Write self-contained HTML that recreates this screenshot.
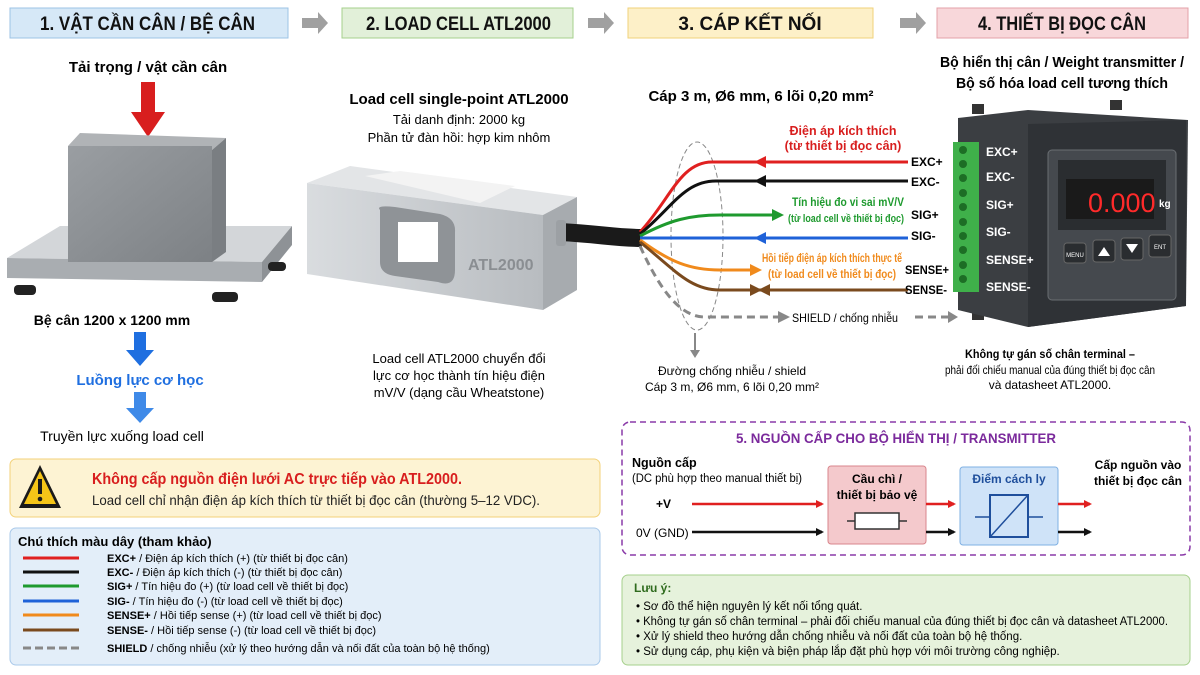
<!DOCTYPE html>
<html><head><meta charset="utf-8"><style>
body{margin:0;width:1200px;height:675px;background:#fff;overflow:hidden;font-family:"Liberation Sans","DejaVu Sans",sans-serif}
svg{position:absolute;left:0;top:0}
text{font-family:"Liberation Sans","DejaVu Sans",sans-serif}
</style></head><body>
<svg width="1200" height="675" viewBox="0 0 1200 675">
<defs>
<marker id="aR" markerWidth="8" markerHeight="8" refX="6" refY="4" orient="auto" markerUnits="userSpaceOnUse"><path d="M0,0L8,4L0,8z" fill="#e02020"/></marker>
<marker id="aK" markerWidth="8" markerHeight="8" refX="6" refY="4" orient="auto" markerUnits="userSpaceOnUse"><path d="M0,0L8,4L0,8z" fill="#111"/></marker>
<linearGradient id="cube" x1="0" y1="0" x2="1" y2="1"><stop offset="0" stop-color="#9a9ea2"/><stop offset="1" stop-color="#7d8185"/></linearGradient>
<linearGradient id="steel" x1="0" y1="0" x2="1" y2="0"><stop offset="0" stop-color="#d9dcdf"/><stop offset="1" stop-color="#b8bcc0"/></linearGradient>
</defs>
<!-- headers -->
<rect x="10" y="8" width="278" height="30" fill="#d6e8f7" stroke="#9cc3e6"/>
<text x="40" y="30" font-size="19" font-weight="bold" textLength="215" lengthAdjust="spacingAndGlyphs" fill="#111">1. VẬT CẦN CÂN / BỆ CÂN</text>
<path d="M302,18h16v-6l10,11l-10,11v-6h-16z" fill="#a0a0a0"/>
<rect x="342" y="8" width="231" height="30" fill="#e2f0d9" stroke="#a6d08c"/>
<text x="366" y="30" font-size="19" font-weight="bold" textLength="185" lengthAdjust="spacingAndGlyphs" fill="#111">2. LOAD CELL ATL2000</text>
<path d="M588,18h16v-6l10,11l-10,11v-6h-16z" fill="#a0a0a0"/>
<rect x="628" y="8" width="245" height="30" fill="#fdf0c8" stroke="#f0d27a"/>
<text x="750" y="30" font-size="19" font-weight="bold" text-anchor="middle" fill="#111">3. CÁP KẾT NỐI</text>
<path d="M900,18h16v-6l10,11l-10,11v-6h-16z" fill="#a0a0a0"/>
<rect x="937" y="8" width="251" height="30" fill="#f8d7da" stroke="#e3a0a8"/>
<text x="978" y="30" font-size="19" font-weight="bold" textLength="168" lengthAdjust="spacingAndGlyphs" fill="#111">4. THIẾT BỊ ĐỌC CÂN</text>

<!-- section 1 -->
<text x="148" y="72" font-size="15" font-weight="bold" text-anchor="middle">Tải trọng / vật cần cân</text>
<path d="M141,82h14v30h10l-17,25l-17,-25h10z" fill="#d81e1e"/>
<polygon points="7,258 60,226 292,226 262,262" fill="#d3d6d9"/>
<polygon points="7,258 262,262 262,282 7,278" fill="#a9adb1"/>
<polygon points="262,262 292,226 292,245 262,282" fill="#8e9296"/>
<rect x="14" y="285" width="22" height="10" rx="4" fill="#222"/>
<rect x="212" y="292" width="26" height="10" rx="4" fill="#222"/>
<rect x="268" y="262" width="18" height="9" rx="4" fill="#222"/>
<polygon points="68,146 80,133 226,138 212,150" fill="#b0b3b6"/>
<polygon points="212,150 226,138 226,252 212,262" fill="#7a7e82"/>
<rect x="68" y="146" width="144" height="116" fill="url(#cube)"/>
<text x="112" y="325" font-size="14" font-weight="bold" text-anchor="middle">Bệ cân 1200 x 1200 mm</text>
<path d="M134,332h12v18h8l-14,16l-14,-16h8z" fill="#1f6fe0"/>
<text x="140" y="385" font-size="15" font-weight="bold" text-anchor="middle" fill="#1f6fe0">Luồng lực cơ học</text>
<path d="M134,392h12v16h8l-14,15l-14,-15h8z" fill="#3f8ae8"/>
<text x="122" y="441" font-size="14" text-anchor="middle">Truyền lực xuống load cell</text>

<!-- section 2 -->
<text x="459" y="104" font-size="15" font-weight="bold" text-anchor="middle">Load cell single-point ATL2000</text>
<text x="459" y="124" font-size="13" text-anchor="middle">Tải danh định: 2000 kg</text>
<text x="459" y="142" font-size="13" text-anchor="middle">Phần tử đàn hồi: hợp kim nhôm</text>
<polygon points="307,183 350,166 577,197 543,215" fill="#e3e5e7"/>
<polygon points="365,176 400,171 515,186 480,203" fill="#f3f3f3"/>
<polygon points="307,183 543,215 543,310 307,274" fill="url(#steel)"/>
<polygon points="543,215 577,197 577,290 543,310" fill="#a7abaf"/>
<path d="M380,210 Q375,205 395,207 L440,214 Q456,218 455,232 L455,270 Q455,288 438,282 L395,276 Q380,274 380,262z" fill="#8f9397"/>
<rect x="398" y="222" width="40" height="40" fill="#fff"/>
<text x="468" y="270" font-size="16" font-weight="bold" fill="#8a8e92">ATL2000</text>
<path d="M560,232 C600,234 615,238 642,238" stroke="#1a1a1a" stroke-width="18" fill="none"/>
<rect x="556" y="220" width="10" height="26" rx="3" fill="#9ca0a4"/>
<text x="459" y="363" font-size="13" text-anchor="middle">Load cell ATL2000 chuyển đổi</text>
<text x="459" y="380" font-size="13" text-anchor="middle">lực cơ học thành tín hiệu điện</text>
<text x="459" y="397" font-size="13" text-anchor="middle">mV/V (dạng cầu Wheatstone)</text>

<!-- section 3 -->
<text x="761" y="101" font-size="15" font-weight="bold" text-anchor="middle">Cáp 3 m, Ø6 mm, 6 lõi 0,20 mm²</text>
<ellipse cx="697" cy="236" rx="26" ry="94" fill="none" stroke="#888" stroke-dasharray="5,3"/>
<g fill="none" stroke-width="3">
<path d="M640,232 C670,200 680,162 712,162 H908" stroke="#e02020"/>
<path d="M640,234 C672,208 684,181 716,181 H908" stroke="#111"/>
<path d="M640,236 C670,220 690,215 720,215 H772" stroke="#1e9a2e"/>
<path d="M640,238 H908" stroke="#1f62d8"/>
<path d="M640,240 C670,262 690,270 720,270 H750" stroke="#f08a1c"/>
<path d="M640,242 C675,270 690,290 720,290 H908" stroke="#7a4a1e"/>
<path d="M640,246 C660,290 680,317 705,317 H780" stroke="#888" stroke-dasharray="8,5"/>
<path d="M915,317 H955" stroke="#888" stroke-dasharray="8,5"/>
</g>
<path d="M766,156 l-12,6 12,6z" fill="#e02020"/>
<path d="M766,175 l-12,6 12,6z" fill="#111"/>
<path d="M772,209 l12,6 -12,6z" fill="#1e9a2e"/>
<path d="M766,232 l-12,6 12,6z" fill="#1f62d8"/>
<path d="M750,264 l12,6 -12,6z" fill="#f08a1c"/>
<path d="M750,284 l12,6 -12,6z" fill="#7a4a1e"/>
<path d="M770,284 l-12,6 12,6z" fill="#7a4a1e"/>
<path d="M778,311 l12,6 -12,6z" fill="#888"/>
<text x="843" y="135" font-size="12.5" font-weight="bold" fill="#d81e1e" text-anchor="middle">Điện áp kích thích</text>
<text x="843" y="150" font-size="12.5" font-weight="bold" fill="#d81e1e" text-anchor="middle">(từ thiết bị đọc cân)</text>
<text x="792" y="206" font-size="11.5" font-weight="bold" fill="#1e9a2e" textLength="112" lengthAdjust="spacingAndGlyphs">Tín hiệu đo vi sai mV/V</text>
<text x="788" y="222" font-size="11" font-weight="bold" fill="#1e9a2e" textLength="116" lengthAdjust="spacingAndGlyphs">(từ load cell về thiết bị đọc)</text>
<text x="762" y="262" font-size="11.5" font-weight="bold" fill="#f08a1c" textLength="140" lengthAdjust="spacingAndGlyphs">Hồi tiếp điện áp kích thích thực tế</text>
<text x="768" y="278" font-size="11.5" font-weight="bold" fill="#f08a1c" textLength="128" lengthAdjust="spacingAndGlyphs">(từ load cell về thiết bị đọc)</text>
<g font-size="12" font-weight="bold">
<text x="911" y="166">EXC+</text><text x="911" y="186">EXC-</text>
<text x="911" y="219">SIG+</text><text x="911" y="240">SIG-</text>
<text x="905" y="274" textLength="44" lengthAdjust="spacingAndGlyphs">SENSE+</text><text x="905" y="294" textLength="42" lengthAdjust="spacingAndGlyphs">SENSE-</text>
</g>
<rect x="790" y="308" width="122" height="16" fill="#fff"/>
<text x="792" y="322" font-size="12" textLength="106" lengthAdjust="spacingAndGlyphs">SHIELD / chống nhiễu</text>
<path d="M695,333 V355" stroke="#888" stroke-width="2"/><path d="M690,350 l5,8 5,-8z" fill="#888"/>
<text x="732" y="375" font-size="12" text-anchor="middle">Đường chống nhiễu / shield</text>
<text x="732" y="391" font-size="12" text-anchor="middle">Cáp 3 m, Ø6 mm, 6 lõi 0,20 mm²</text>

<!-- section 4 -->
<text x="1062" y="67" font-size="15" font-weight="bold" text-anchor="middle" textLength="244" lengthAdjust="spacingAndGlyphs">Bộ hiển thị cân / Weight transmitter /</text>
<text x="1062" y="88" font-size="15" font-weight="bold" text-anchor="middle" textLength="212" lengthAdjust="spacingAndGlyphs">Bộ số hóa load cell tương thích</text>
<rect x="972" y="104" width="12" height="10" fill="#333"/><rect x="1110" y="100" width="12" height="10" fill="#333"/>
<rect x="972" y="308" width="12" height="12" fill="#333"/>
<polygon points="958,118 1028,110 1188,120 1186,306 1028,327 958,310" fill="#3b3e42"/>
<polygon points="1028,124 1186,120 1186,306 1028,327" fill="#2f3236"/>
<rect x="1048" y="150" width="128" height="150" rx="4" fill="#45494e" stroke="#6a6e72"/>
<rect x="1058" y="160" width="108" height="70" fill="#2a2d30"/>
<rect x="1066" y="179" width="88" height="40" fill="#1a1a1a"/>
<text x="1088" y="212" font-size="27" fill="#ff2a2a" font-family="Liberation Mono,monospace">0.000</text>
<text x="1159" y="207" font-size="10" font-weight="bold" fill="#fff">kg</text>
<rect x="1064" y="243" width="22" height="20" rx="3" fill="#2a2d30" stroke="#666"/>
<text x="1075" y="257" font-size="6" fill="#fff" text-anchor="middle">MENU</text>
<rect x="1093" y="240" width="22" height="22" rx="3" fill="#2a2d30" stroke="#666"/><path d="M1098,256 l6,-9 6,9z" fill="#fff"/>
<rect x="1121" y="238" width="22" height="22" rx="3" fill="#2a2d30" stroke="#666"/><path d="M1126,244 l6,9 6,-9z" fill="#fff"/>
<rect x="1149" y="235" width="22" height="22" rx="3" fill="#2a2d30" stroke="#666"/>
<text x="1160" y="249" font-size="6" fill="#fff" text-anchor="middle">ENT</text>
<rect x="953" y="142" width="26" height="150" fill="#3fb04a"/>
<g fill="#1d6e25">
<circle cx="963" cy="150" r="4"/><circle cx="963" cy="164" r="4"/><circle cx="963" cy="178" r="4"/><circle cx="963" cy="193" r="4"/><circle cx="963" cy="207" r="4"/><circle cx="963" cy="222" r="4"/><circle cx="963" cy="236" r="4"/><circle cx="963" cy="250" r="4"/><circle cx="963" cy="265" r="4"/><circle cx="963" cy="279" r="4"/>
</g>
<g font-size="12" font-weight="bold" fill="#fff">
<text x="986" y="156">EXC+</text><text x="986" y="181">EXC-</text><text x="986" y="209">SIG+</text>
<text x="986" y="236">SIG-</text><text x="986" y="264">SENSE+</text><text x="986" y="291">SENSE-</text>
</g>
<path d="M948,311 l10,6 -10,6z" fill="#888"/>
<text x="1050" y="358" font-size="12" font-weight="bold" text-anchor="middle" textLength="170" lengthAdjust="spacingAndGlyphs">Không tự gán số chân terminal –</text>
<text x="1050" y="374" font-size="12" text-anchor="middle" textLength="210" lengthAdjust="spacingAndGlyphs">phải đối chiếu manual của đúng thiết bị đọc cân</text>
<text x="1050" y="389" font-size="12" text-anchor="middle">và datasheet ATL2000.</text>

<!-- warning -->
<rect x="10" y="459" width="590" height="58" rx="6" fill="#fdf3d3" stroke="#f3d27a"/>
<path d="M40,465 L61,508 H19z" fill="#1a1a1a"/><path d="M40,471 L56,504 H24z" fill="#f5c518"/>
<rect x="38" y="479" width="4" height="15" fill="#1a1a1a"/><circle cx="40" cy="499" r="2.3" fill="#1a1a1a"/>
<text x="92" y="484" font-size="16" font-weight="bold" fill="#d81e1e" textLength="370" lengthAdjust="spacingAndGlyphs">Không cấp nguồn điện lưới AC trực tiếp vào ATL2000.</text>
<text x="92" y="505" font-size="14" fill="#222" textLength="448" lengthAdjust="spacingAndGlyphs">Load cell chỉ nhận điện áp kích thích từ thiết bị đọc cân (thường 5–12 VDC).</text>

<!-- legend -->
<rect x="10" y="528" width="590" height="137" rx="6" fill="#e3eef9" stroke="#a9c9ea"/>
<text x="18" y="546" font-size="13" font-weight="bold">Chú thích màu dây (tham khảo)</text>
<g stroke-width="3">
<path d="M23,558H79" stroke="#e02020"/><path d="M23,572H79" stroke="#111"/><path d="M23,586H79" stroke="#1e9a2e"/>
<path d="M23,601H79" stroke="#1f62d8"/><path d="M23,615H79" stroke="#f08a1c"/><path d="M23,630H79" stroke="#7a4a1e"/>
<path d="M23,648H79" stroke="#888" stroke-dasharray="8,4"/>
</g>
<g font-size="11">
<text x="107" y="562"><tspan font-weight="bold">EXC+</tspan> / Điện áp kích thích (+)  (từ thiết bị đọc cân)</text>
<text x="107" y="576"><tspan font-weight="bold">EXC-</tspan> / Điện áp kích thích (-)  (từ thiết bị đọc cân)</text>
<text x="107" y="590"><tspan font-weight="bold">SIG+</tspan> / Tín hiệu đo (+)  (từ load cell về thiết bị đọc)</text>
<text x="107" y="605"><tspan font-weight="bold">SIG-</tspan> / Tín hiệu đo (-)  (từ load cell về thiết bị đọc)</text>
<text x="107" y="619"><tspan font-weight="bold">SENSE+</tspan> / Hồi tiếp sense (+)  (từ load cell về thiết bị đọc)</text>
<text x="107" y="634"><tspan font-weight="bold">SENSE-</tspan> / Hồi tiếp sense (-)  (từ load cell về thiết bị đọc)</text>
<text x="107" y="652"><tspan font-weight="bold">SHIELD</tspan> / chống nhiễu  (xử lý theo hướng dẫn và nối đất của toàn bộ hệ thống)</text>
</g>

<!-- power -->
<rect x="622" y="422" width="568" height="133" rx="8" fill="none" stroke="#8a3aa8" stroke-width="1.5" stroke-dasharray="6,4"/>
<text x="896" y="443" font-size="14" font-weight="bold" fill="#7b2a9c" text-anchor="middle" textLength="320" lengthAdjust="spacingAndGlyphs">5. NGUỒN CẤP CHO BỘ HIỂN THỊ / TRANSMITTER</text>
<text x="632" y="467" font-size="12.5" font-weight="bold">Nguồn cấp</text>
<text x="632" y="482" font-size="11.5" textLength="170" lengthAdjust="spacingAndGlyphs">(DC phù hợp theo manual thiết bị)</text>
<text x="656" y="508" font-size="12" font-weight="bold">+V</text>
<text x="636" y="537" font-size="12">0V (GND)</text>
<rect x="828" y="466" width="98" height="78" rx="3" fill="#f4c9cc" stroke="#d9858c"/>
<text x="877" y="483" font-size="12" font-weight="bold" text-anchor="middle">Cầu chì /</text>
<text x="877" y="499" font-size="12" font-weight="bold" text-anchor="middle">thiết bị bảo vệ</text>
<path d="M847,521h60" stroke="#333" stroke-width="1.5"/>
<rect x="855" y="513" width="44" height="16" fill="#fff" stroke="#333" stroke-width="1.5"/>
<rect x="960" y="467" width="98" height="78" rx="3" fill="#cfe3f8" stroke="#7fb0e3"/>
<text x="1009" y="483" font-size="12" font-weight="bold" fill="#1f4f9c" text-anchor="middle">Điểm cách ly</text>
<rect x="990" y="495" width="38" height="42" fill="none" stroke="#1f4f9c" stroke-width="2"/>
<path d="M990,537 L1028,495 M975,517H990 M1028,517H1043" stroke="#1f4f9c" stroke-width="1.5"/>
<g stroke-width="2.5">
<path d="M692,504H822" stroke="#e02020" marker-end="url(#aR)"/>
<path d="M692,532H822" stroke="#111" marker-end="url(#aK)"/>
<path d="M926,504H954" stroke="#e02020" marker-end="url(#aR)"/>
<path d="M926,532H954" stroke="#111" marker-end="url(#aK)"/>
<path d="M1058,504H1090" stroke="#e02020" marker-end="url(#aR)"/>
<path d="M1058,532H1090" stroke="#111" marker-end="url(#aK)"/>
</g>
<text x="1138" y="469" font-size="12" font-weight="bold" text-anchor="middle">Cấp nguồn vào</text>
<text x="1138" y="485" font-size="12" font-weight="bold" text-anchor="middle">thiết bị đọc cân</text>

<!-- notes -->
<rect x="622" y="575" width="568" height="90" rx="6" fill="#e6f2dc" stroke="#a6d08c"/>
<text x="634" y="592" font-size="12" font-weight="bold" fill="#2f6b1e">Lưu ý:</text>
<g font-size="11.5">
<text x="636" y="610">•  Sơ đồ thể hiện nguyên lý kết nối tổng quát.</text>
<text x="636" y="625" textLength="532" lengthAdjust="spacingAndGlyphs">•  Không tự gán số chân terminal – phải đối chiếu manual của đúng thiết bị đọc cân và datasheet ATL2000.</text>
<text x="636" y="640">•  Xử lý shield theo hướng dẫn chống nhiễu và nối đất của toàn bộ hệ thống.</text>
<text x="636" y="655">•  Sử dụng cáp, phụ kiện và biện pháp lắp đặt phù hợp với môi trường công nghiệp.</text>
</g>
</svg>
</body></html>
